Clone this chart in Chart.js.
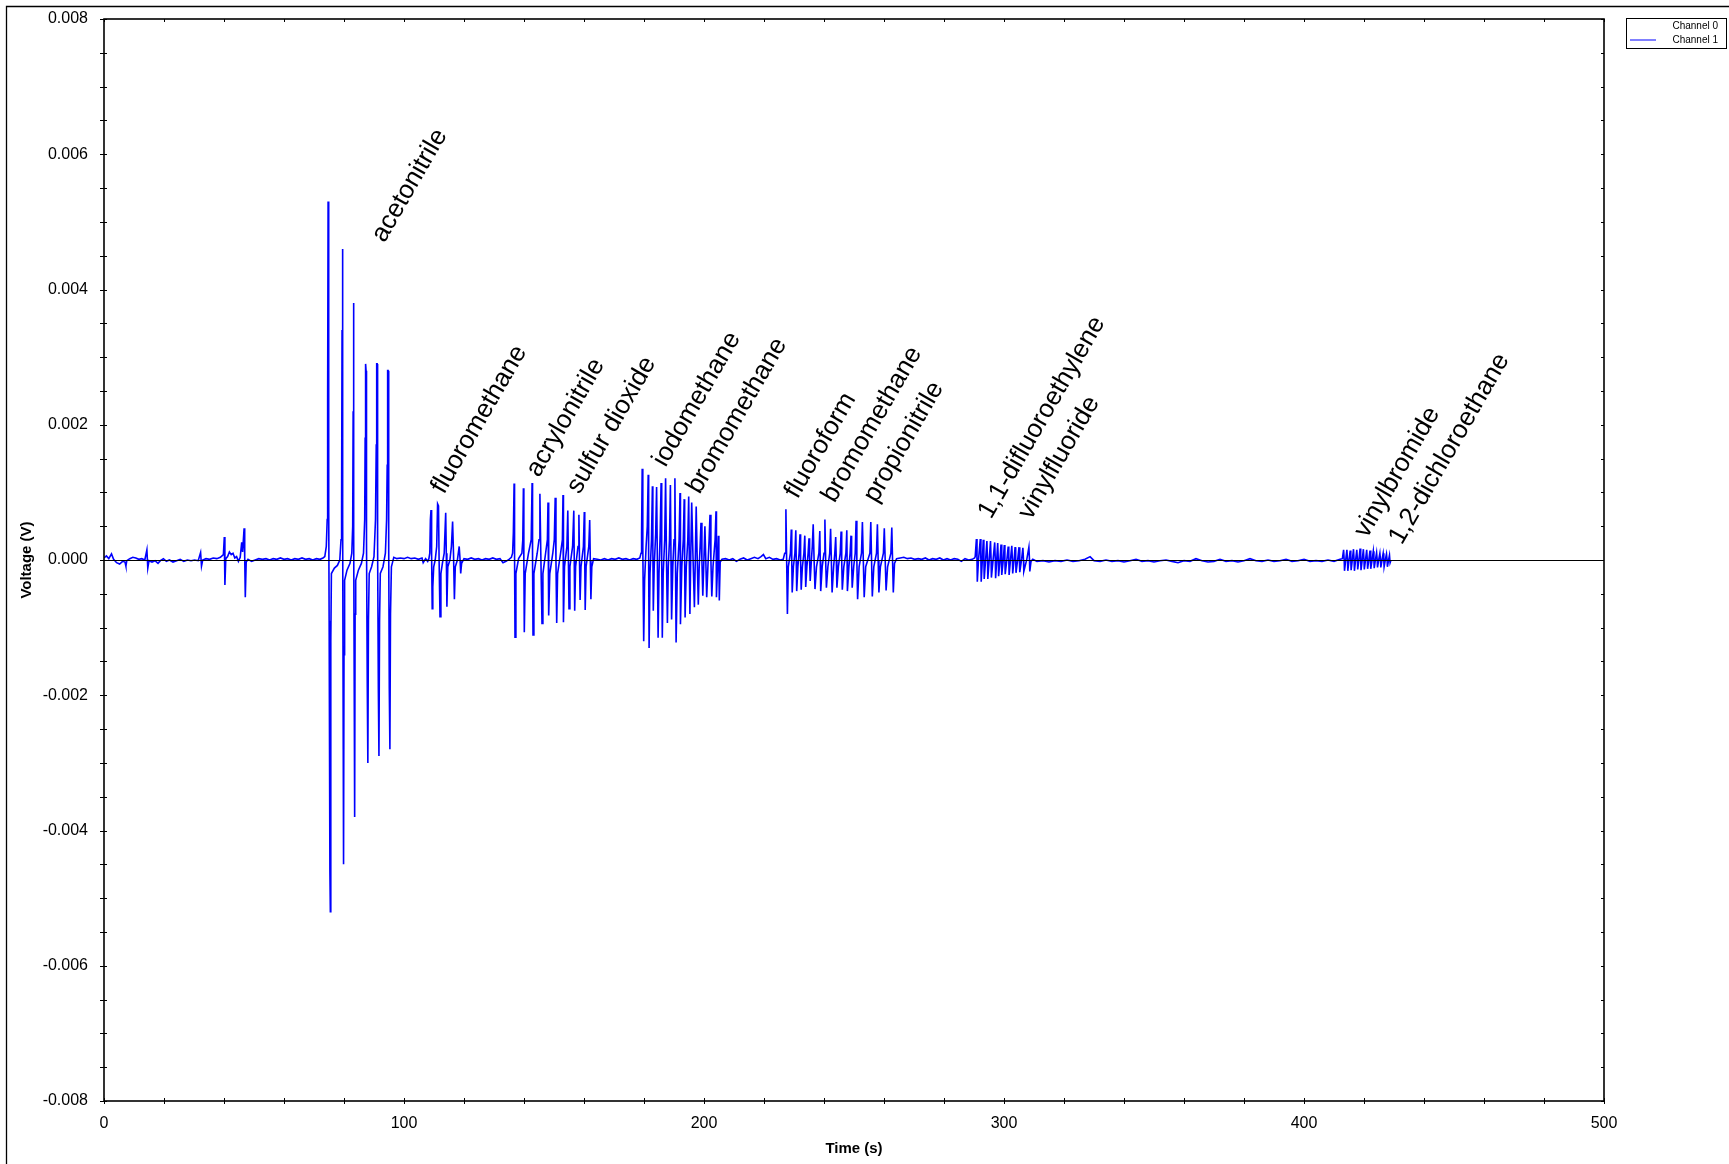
<!DOCTYPE html>
<html>
<head>
<meta charset="utf-8">
<title>Channel 1 voltage trace</title>
<script src="https://cdn.jsdelivr.net/npm/chart.js@4.4.1/dist/chart.umd.min.js"></script>
<style>
  html, body { margin: 0; padding: 0; background: #fff; }
  #wrap { width: 1729px; height: 1164px; }
</style>
</head>
<body>
<div id="wrap"><canvas id="trace" width="1729" height="1164"></canvas></div>
<script>
// ? Data (time in s, voltage in V)
// ? ==================================
const quietStart = [
  [0, 0.00003], [0.8, 0.00006], [1.6, 0.00002], [2.5, 0.00009], [3.2, 0.00001], [4.2, -0.00004],
  [5.2, -0.00006], [6.2, -0.00002], [7.0, -0.00003], [7.3, -0.00009], [7.6, -0.00001], [8.6, 0.00002],
  [9.6, 0.00004], [10.6, 0.00003], [11.6, 0.00001], [12.6, 0.00002], [13.6, 0.0], [14.3, 0.00015],
  [14.6, -0.00012], [15.0, -0.00001], [16.0, -0.00003], [17.0, -0.00001], [18.0, -0.00005], [18.8, -0.00001],
  [19.8, 0.00002], [20.8, -0.00002], [21.8, 0.0], [23.0, -0.00003], [24.2, -0.00001], [25.4, 0.00001],
  [26.6, -0.00002], [27.8, 0.0], [29.0, -0.00001], [30.2, 0.0], [31.4, -0.00001], [32.2, 0.00011],
  [32.5, -0.00009], [32.9, 0.0], [34.0, 0.00002], [35.2, 0.00001], [36.4, 0.00003], [37.6, 0.00002],
  [38.8, 0.00004], [39.8, 0.00008], [40.1, 0.00034], [40.3, -0.00037], [40.6, 0.00002], [41.2, 0.00005],
  [41.8, 0.00012], [42.4, 0.00008], [43.0, 0.0001], [43.6, 0.00003], [44.2, 0.00005], [44.8, -0.00002],
  [45.4, 0.00004], [45.9, 0.00026], [46.2, 0.00012], [46.7, 0.00047], [46.9, 0.00005], [47.1, -0.00055],
  [47.4, -0.00003], [48.0, 0.00001], [49.2, -0.00002], [50.4, 0.0], [51.6, 0.00002], [52.8, 0.00001],
  [54.0, 0.00002], [55.2, 0.0], [56.4, 0.00002], [57.6, 0.00001], [58.8, 0.00003], [60.0, 0.00001],
  [61.2, 0.00002], [62.4, 0.0], [63.6, 0.00002], [64.8, 0.00001], [66.0, 0.00003], [67.2, 0.00001],
  [68.4, 0.00002], [69.6, 0.0], [70.8, 0.00002], [72.0, 0.00001], [73.0, 0.00003]
];

const acetonitrilePeaks = [
  [73.6, 0.00005], [74.1, 0.0002], [74.4, 0.0006], [74.55, 0.0024], [74.7, 0.0053], [74.9, 0.0008],
  [75.05, -0.0009], [75.3, -0.0046], [75.45, -0.0052], [75.6, -0.0012], [75.8, -0.0002], [76.8, -0.00012],
  [77.8, -0.00008], [78.6, 0.0], [79.0, 0.0003], [79.2, 0.0008], [79.35, 0.0034], [79.5, 0.0046],
  [79.6, 0.0006], [79.75, -0.0028], [79.85, -0.0045], [80.0, -0.0014], [80.2, -0.0003], [81.0, -0.00015],
  [82.0, -0.00005], [82.6, 0.0001], [82.9, 0.0005], [83.05, 0.0022], [83.15, 0.0038], [83.3, 0.0004],
  [83.45, -0.0024], [83.55, -0.0038], [83.7, -0.0008], [83.9, -0.0003], [84.8, -0.00015], [85.8, -0.00005],
  [86.5, 0.0001], [86.9, 0.0006], [87.05, 0.0018], [87.2, 0.0029], [87.35, 0.0028], [87.5, 0.0003],
  [87.75, -0.0018], [87.95, -0.003], [88.15, -0.0009], [88.4, -0.0002], [89.2, -0.0001], [90.0, 0.00005],
  [90.5, 0.0006], [90.75, 0.0017], [90.9, 0.0029], [91.05, 0.0029], [91.2, 0.0002], [91.45, -0.0019],
  [91.65, -0.0029], [91.85, -0.0009], [92.1, -0.0002], [93.0, -0.0001], [93.8, 0.0001], [94.2, 0.0006],
  [94.4, 0.0014], [94.55, 0.0028], [94.7, 0.0028], [94.9, 0.0002], [95.1, -0.0019], [95.3, -0.0028],
  [95.5, -0.0008], [95.8, -0.0001], [96.6, 0.00004], [97.6, 0.00002]
];

const quietA = [
  [98.8, 0.00003], [100, 0.00002], [101.2, 0.00004], [102.4, 0.00002], [103.6, 0.00003], [104.8, 0.00001],
  [106, 0.00003], [106.4, -0.00004], [107.2, 0.00002], [107.9, -0.00002], [108.3, 0.00002]
];

const fluoromethanePeaks = [
  [108.6, 0.0001], [108.8, 0.0006], [109.0, 0.00074], [109.2, 0.0001], [109.4, -0.00072], [109.6, -0.0004],
  [109.9, -0.0001], [110.4, 0.0], [110.9, 0.0002], [111.2, 0.00083], [111.5, 0.0008], [111.7, 0.0],
  [112.0, -0.00084], [112.3, -0.0002], [112.8, -0.00005], [113.4, 0.0001], [113.9, 0.0007], [114.1, 0.0001],
  [114.3, -0.00069], [114.6, -0.0001], [115.3, 0.0], [115.8, 0.0002], [116.2, 0.00057], [116.5, 0.0001],
  [116.8, -0.00058], [117.1, -0.0001], [117.8, 0.0], [118.4, 0.0002], [118.7, 0.0], [118.9, -0.0002],
  [119.2, -0.00005], [120, 0.00002]
];

const quietB = [
  [121.2, 0.00001], [122.4, 0.00003], [123.6, 0.00001], [124.8, 0.00002], [126, 0.0], [127.2, 0.00002],
  [128.4, 0.00001], [129.6, 0.00003], [130.8, 0.00001], [132, 0.00002], [133, -0.00004], [134, -0.00002],
  [135, 0.00001], [135.8, 0.00004]
];

const acrylonitrilePeaks = [
  [136.2, 0.0001], [136.45, 0.0004], [136.7, 0.00113], [136.85, 0.0001], [137.0, -0.00114], [137.3, -0.0002],
  [138.2, 0.00002], [139.3, 0.0001], [139.6, 0.0003], [139.8, 0.00106], [139.95, 0.0], [140.1, -0.00107],
  [140.4, -0.0002], [141.5, 0.0001], [142.4, 0.0003], [142.7, 0.00114], [142.85, 0.0], [143.0, -0.00111],
  [143.3, -0.0002], [144.4, 0.0001], [145.0, 0.0003], [145.3, 0.00098], [145.6, 0.0001], [146.0, -0.00094],
  [146.3, -0.0002], [147.2, 0.0001], [147.8, 0.0003], [148.0, 0.00085], [148.15, 0.0], [148.3, -0.00082],
  [148.6, -0.0002], [149.6, 0.0001], [150.1, 0.0003], [150.4, 0.00092], [150.65, 0.0], [150.9, -0.00093],
  [151.2, -0.0002], [152.2, 0.0001], [152.8, 0.0003], [153.0, 0.00096], [153.1, 0.0], [153.2, -0.00092],
  [153.5, -0.0001], [154.3, 0.0002], [154.6, 0.00073], [154.8, 0.0], [155.0, -0.00072], [155.3, -0.0001],
  [156.2, 0.0002], [156.6, 0.00073], [156.75, 0.0], [156.9, -0.00075], [157.2, -0.0001], [158.0, 0.0002],
  [158.3, 0.00067], [158.5, 0.0], [158.7, -0.00059], [159.0, -0.0001], [159.8, 0.0002], [160.1, 0.00071],
  [160.25, 0.0], [160.4, -0.00074], [160.7, -0.0001], [161.6, 0.0002], [161.9, 0.00059], [162.1, 0.0],
  [162.3, -0.00058], [162.6, -0.0001], [163.2, 0.00002]
];

const quietC = [
  [164.4, 0.00001], [165.6, 0.0], [166.8, 0.00002], [168, 0.0], [169.2, 0.00002], [170.4, 0.00001],
  [171.6, 0.00003], [172.8, 0.00001], [174, 0.00002], [175.2, 0.0], [176.4, 0.00002], [177.6, 0.00001],
  [178.6, 0.00003]
];

const iodomethanePeaks = [
  [179.0, 0.0001], [179.2, 0.0004], [179.4, 0.00135], [179.6, 0.0002], [179.9, -0.0012], [180.2, -0.0003],
  [180.7, 0.0002], [181.1, 0.0005], [181.4, 0.00126], [181.55, 0.0], [181.7, -0.0013], [182.0, -0.0002],
  [182.5, 0.0003], [182.8, 0.00109], [182.95, 0.0002], [183.1, -0.00075], [183.4, -0.0001], [183.9, 0.0004],
  [184.2, 0.00108], [184.45, 0.0], [184.7, -0.00115], [185.0, -0.0002], [185.4, 0.0004], [185.7, 0.00114],
  [185.9, 0.0], [186.1, -0.00115], [186.4, -0.0002], [186.9, 0.0003], [187.2, 0.00121], [187.5, 0.0],
  [187.8, -0.00093], [188.1, -0.0001], [188.5, 0.0003], [188.8, 0.00111], [189.0, 0.0], [189.2, -0.00088],
  [189.6, -0.0001], [190.0, 0.0003], [190.3, 0.00121], [190.5, 0.0], [190.7, -0.00122], [191.1, -0.0002],
  [191.7, 0.0003], [192.0, 0.00099], [192.1, 0.0], [192.2, -0.00095], [192.6, -0.0001], [193.1, 0.0003],
  [193.4, 0.0009], [193.55, 0.0], [193.7, -0.00085], [194.1, -0.0001], [194.6, 0.0003], [194.9, 0.00094],
  [195.1, 0.0], [195.3, -0.0008], [195.6, 0.0001], [195.9, 0.00085], [196.3, 0.0001], [196.8, -0.0007],
  [197.1, 0.0], [197.4, 0.00079], [197.7, 0.0001], [198.1, -0.00066], [198.4, -0.0001], [198.7, 0.0002],
  [199.0, 0.00055], [199.3, 0.0], [199.6, -0.00053], [199.9, -0.0001], [200.3, 0.0005], [200.6, 0.0],
  [200.9, -0.00055], [201.3, -0.0001], [201.7, 0.0003], [202.0, 0.00067], [202.3, 0.0], [202.6, -0.00054],
  [203.0, -0.0001], [203.7, 0.0003], [204.0, 0.00072], [204.1, 0.0], [204.2, -0.00055], [204.5, -0.0001],
  [204.8, 0.00036], [204.95, 0.0], [205.1, -0.0006], [205.4, -0.00003], [206.0, 0.00001]
];

const quietD = [
  [207.2, 0.00002], [208.4, 0.0], [209.6, 0.00002], [210.8, -0.00002], [212, 0.00001], [213.2, 0.00003],
  [214.4, 0.0], [215.6, 0.00002], [216.8, 0.00004], [218, 0.00002], [219, 0.00005], [219.8, 0.00008],
  [220.6, 0.00002], [221.8, 0.00004], [223, 0.00001], [224.2, 0.00002], [225.4, 0.0], [226.4, 0.00001],
  [226.9, 0.0001]
];

const fluoroformPeaks = [
  [227.0, 0.0001], [227.3, 0.00075], [227.55, 0.0], [227.8, -0.0008], [228.1, -0.0001], [228.8, 0.0001],
  [229.1, 0.00045], [229.25, 0.0], [229.4, -0.00048], [229.8, -0.0001], [230.3, 0.0001], [230.6, 0.00044],
  [230.75, 0.0], [230.9, -0.00046], [231.3, -0.0001], [231.7, 0.0001], [232.0, 0.00038], [232.2, 0.0],
  [232.4, -0.00044], [232.8, -0.0001], [233.3, 0.0001], [233.6, 0.00036], [233.75, 0.0], [233.9, -0.0004],
  [234.3, -0.0001], [234.7, 0.0001], [235.0, 0.00032], [235.2, 0.0], [235.4, -0.00031], [235.8, 0.0],
  [236.1, 0.0002], [236.4, 0.00053], [236.7, 0.0], [237.0, -0.00043], [237.5, -0.0001], [238.3, 0.0001],
  [238.6, 0.00043], [238.75, 0.0], [238.9, -0.00046], [239.4, -0.0001], [240.0, 0.0001], [240.3, 0.0006],
  [240.55, 0.0], [240.8, -0.00041], [241.3, -0.0001], [241.9, 0.0001], [242.2, 0.00046], [242.45, 0.0],
  [242.7, -0.00048], [243.2, -0.0001], [243.6, 0.0001], [243.9, 0.00034], [244.1, 0.0], [244.3, -0.00041],
  [244.8, -0.0001], [245.4, 0.0001], [245.7, 0.00042], [245.9, 0.0], [246.1, -0.00044], [246.6, -0.0001],
  [247.3, 0.0001], [247.6, 0.00044], [247.7, 0.0], [247.8, -0.00046], [248.3, -0.0001], [248.7, 0.0001],
  [249.0, 0.00036], [249.2, 0.0], [249.4, -0.00041], [249.9, -0.0001], [250.4, 0.0001], [250.7, 0.00058],
  [250.95, 0.0], [251.2, -0.00058], [251.7, -0.0001], [252.5, 0.0001], [252.8, 0.00056], [253.1, 0.0],
  [253.4, -0.00055], [253.9, -0.0001], [255.3, 0.0001], [255.6, 0.00056], [255.85, 0.0], [256.1, -0.00054],
  [256.6, -0.0001], [257.5, 0.0001], [257.8, 0.00053], [258.05, 0.0], [258.3, -0.00048], [258.8, -0.0001],
  [259.8, 0.0001], [260.1, 0.00047], [260.4, 0.0], [260.7, -0.00045], [261.2, -0.0001], [262.3, 0.0001],
  [262.6, 0.00048], [262.85, 0.0], [263.1, -0.00048], [263.5, -0.00005], [264.2, 0.00002]
];

const quietE = [
  [265.4, 0.00003], [266.6, 0.00004], [267.8, 0.00002], [269, 0.00003], [270.2, 0.00001], [271.4, 0.00002],
  [272.6, 0.00001], [273.8, 0.00003], [275, 0.0], [276.2, 0.00002], [277.4, 0.00001], [278.6, 0.00003],
  [279.8, 0.0], [281, 0.00002], [282.2, 0.0], [283.4, 0.00002], [284.6, 0.00001], [285.8, -0.00002],
  [287, 0.00002], [288.2, 0.0], [289.4, 0.00001], [290.2, 0.00003]
];

const difluoroethylenePeaks = [
  [290.4, 0.00005], [290.8, 0.00031], [291.0, 0.0], [291.1, -0.00032], [291.5, 0.0], [292.1, 0.00031],
  [292.3, 0.0], [292.4, -0.00032], [292.8, 0.00002], [293.1, 0.0003], [293.3, 0.0], [293.4, -0.00028],
  [293.9, 0.00002], [294.3, 0.00028], [294.5, 0.0], [294.6, -0.00028], [295.1, 0.00002], [295.5, 0.00028],
  [295.7, 0.0], [295.8, -0.00026], [296.4, 0.00002], [296.9, 0.00026], [297.1, 0.0], [297.2, -0.00027],
  [297.6, 0.00002], [297.9, 0.00025], [298.1, 0.0], [298.2, -0.00024], [298.7, 0.00002], [299.0, 0.00023],
  [299.2, 0.0], [299.3, -0.00022], [299.8, 0.00002], [300.1, 0.00022], [300.3, 0.0], [300.4, -0.00021],
  [301.0, 0.00002], [301.4, 0.0002], [301.6, 0.0], [301.7, -0.00022], [302.2, 0.00002], [302.6, 0.00021],
  [302.8, 0.0], [302.9, -0.0002], [303.4, 0.00002], [303.7, 0.00019], [303.9, 0.0], [304.0, -0.00019],
  [304.6, 0.00002], [305.0, 0.00019], [305.2, 0.0], [305.3, -0.00018], [305.9, 0.00002], [306.3, 0.00018],
  [306.5, 0.0], [306.6, -0.00017], [307.6, 0.00001], [308.3, 0.00019], [308.5, 0.0], [308.6, -0.00017],
  [309.0, -0.00002], [309.6, 0.00001]
];

const quietF = [
  [311, -0.00002], [313, -0.00001], [315, -0.00003], [317, -0.00001], [319, -0.00002], [321, 0.0],
  [323, -0.00002], [325, -0.00001], [327, 0.00001], [328.7, 0.00005], [330, -0.00001], [332, -0.00002],
  [334, 0.0], [336, -0.00002], [338, -0.00001], [340, -0.00003], [342, -0.00001], [344, 0.00001],
  [346, -0.00002], [348, -0.00001], [350, -0.00003], [352, -0.00001], [354, 0.0], [356, -0.00002],
  [358, -0.00004], [360, -0.00001], [362, -0.00002], [364, 0.00002], [366, -0.00001], [368, -0.00003],
  [370, -0.00002], [372, 0.00001], [374, -0.00002], [376, -0.00001], [378, -0.00003], [380, -0.00001],
  [382, 0.00002], [384, -0.00001], [386, -0.00002], [388, 0.0], [390, -0.00002], [392, -0.00001],
  [394, 0.00001], [396, -0.00002], [398, -0.00001], [400, 0.00001], [402, -0.00002], [404, -0.00001],
  [406, -0.00002], [408, 0.0], [410, -0.00002], [412, 0.00001]
];

const vinylbromidePeaks = [
  [412.8, 0.00002], [413.2, 0.00015], [413.4, 0.0], [413.5, -0.00016], [413.9, 0.0], [414.3, 0.00015],
  [414.5, 0.0], [414.6, -0.00016], [415.0, 0.0], [415.4, 0.00014], [415.6, 0.0], [415.7, -0.00015],
  [416.1, 0.0], [416.5, 0.00016], [416.7, 0.0], [416.8, -0.00016], [417.2, 0.0], [417.6, 0.00015],
  [417.8, 0.0], [417.9, -0.00014], [418.3, 0.0], [418.7, 0.00017], [418.9, 0.0], [419.0, -0.00015],
  [419.4, 0.0], [419.8, 0.00016], [420.0, 0.0], [420.1, -0.00014], [420.5, 0.0], [420.9, 0.00015],
  [421.1, 0.0], [421.2, -0.00013], [421.6, 0.0], [422.0, 0.00014], [422.2, 0.0], [422.3, -0.00013],
  [422.7, 0.0], [423.1, 0.00013], [423.3, 0.0], [423.4, -0.00012], [423.8, 0.0], [424.2, 0.00011],
  [424.4, 0.0], [424.5, -0.00011], [424.9, 0.0], [425.3, 0.0001], [425.5, 0.0], [425.6, -0.00011],
  [426.0, 0.0], [426.4, 0.0001], [426.6, 0.0], [426.7, -0.0001], [427.1, 0.0], [427.5, 0.00009],
  [427.7, 0.0], [427.8, -0.0001], [428.2, 0.0], [428.5, 0.00007], [428.7, -0.00004], [429.0, 0.0]
];

// compound names, placed at (time, voltage) where each label starts
const compoundNames = [
  "acetonitrile", "fluoromethane", "acrylonitrile", "sulfur dioxide", "iodomethane", "bromomethane",
  "fluoroform", "bromomethane", "propionitrile", "1,1-difluoroethylene", "vinylfluoride",
  "vinylbromide", "1,2-dichloroethane"
];
const compoundTimes = [93.5, 113.3, 145.0, 158.5, 187.2, 198.5, 231.2, 243.5, 257.5, 295.7, 309.0, 421.0, 432.6];
const compoundVolts = [0.00468, 0.00096, 0.00121, 0.00096, 0.00136, 0.00096, 0.00089, 0.00083, 0.00083,
  0.00059, 0.00058, 0.00031, 0.00021];

const xTicks = [0, 100, 200, 300, 400, 500];
const yTicks = [-0.008, -0.006, -0.004, -0.002, 0, 0.002, 0.004, 0.006, 0.008];
// ? ==================================

const FONT = "'Liberation Sans', Arial, Helvetica, sans-serif";

const channel1 = []
  .concat(quietStart, acetonitrilePeaks, quietA, fluoromethanePeaks, quietB, acrylonitrilePeaks,
    quietC, iodomethanePeaks, quietD, fluoroformPeaks, quietE, difluoroethylenePeaks, quietF, vinylbromidePeaks)
  .map((p) => ({ x: p[0], y: p[1] }));

// & Frame, ticks, zero line, labels and legend
// & ============================
const decorations = {
  id: "decorations",
  afterDatasetsDraw(chart) {
    const ctx = chart.ctx;
    const area = chart.chartArea;
    const xs = chart.scales.x;
    const ys = chart.scales.y;
    ctx.save();
    ctx.strokeStyle = "#000";

    // zero line
    ctx.lineWidth = 1;
    const y0 = Math.round(ys.getPixelForValue(0)) + 0.5;
    ctx.beginPath();
    ctx.moveTo(area.left, y0);
    ctx.lineTo(area.right, y0);
    ctx.stroke();

    // plot box
    ctx.lineWidth = 1.6;
    ctx.strokeRect(area.left, area.top, area.right - area.left, area.bottom - area.top);

    // outer frame (only top & left are on the page)
    ctx.lineWidth = 1.3;
    ctx.beginPath();
    ctx.moveTo(6.5, chart.height + 2);
    ctx.lineTo(6.5, 6.5);
    ctx.lineTo(chart.width + 2, 6.5);
    ctx.stroke();

    // minor ticks
    ctx.lineWidth = 1;
    ctx.beginPath();
    for (let i = 0; i <= 25; i++) {
      const px = Math.round(xs.getPixelForValue(i * 20)) + 0.5;
      ctx.moveTo(px, area.bottom - 3);
      ctx.lineTo(px, area.bottom + 3);
      ctx.moveTo(px, area.top);
      ctx.lineTo(px, area.top + 3);
    }
    for (let i = 0; i <= 32; i++) {
      const py = Math.round(ys.getPixelForValue(-0.008 + i * 0.0005)) + 0.5;
      ctx.moveTo(area.left - 4, py);
      ctx.lineTo(area.left + 3, py);
      ctx.moveTo(area.right - 3, py);
      ctx.lineTo(area.right, py);
    }
    ctx.stroke();

    // compound labels
    ctx.fillStyle = "#000";
    ctx.font = "26px " + FONT;
    ctx.textAlign = "left";
    ctx.textBaseline = "alphabetic";
    compoundNames.forEach((name, i) => {
      ctx.save();
      ctx.translate(xs.getPixelForValue(compoundTimes[i]), ys.getPixelForValue(compoundVolts[i]));
      ctx.rotate(-60 * Math.PI / 180);
      ctx.fillText(name, 0, 0);
      ctx.restore();
    });

    // legend box
    ctx.lineWidth = 1;
    ctx.strokeRect(1626.5, 18.5, 100, 30);
    ctx.font = "10px " + FONT;
    ctx.textAlign = "right";
    ctx.textBaseline = "middle";
    chart.data.datasets.forEach((ds, i) => {
      const ly = 26 + i * 14;
      ctx.strokeStyle = ds.borderColor;
      ctx.lineWidth = 1;
      ctx.beginPath();
      ctx.moveTo(1630, ly);
      ctx.lineTo(1656, ly);
      ctx.stroke();
      ctx.fillText(ds.label, 1718, ly);
    });
    ctx.restore();
  },
};
// & ============================

new Chart(document.getElementById("trace"), {
  type: "scatter",
  data: {
    datasets: [
      { label: "Channel 0", data: [], borderColor: "#ffffff", showLine: true, pointRadius: 0 },
      {
        label: "Channel 1",
        data: channel1,
        borderColor: "#0000ff",
        borderWidth: 1.6,
        showLine: true,
        pointRadius: 0,
        tension: 0,
      },
    ],
  },
  options: {
    responsive: false,
    devicePixelRatio: 1,
    animation: false,
    layout: { padding: { top: 19, right: 125, left: 0, bottom: 0 } },
    plugins: { legend: { display: false }, tooltip: { enabled: false } },
    scales: {
      x: {
        type: "linear",
        min: 0,
        max: 500,
        grid: { display: false, drawTicks: false },
        border: { display: false },
        afterBuildTicks: (axis) => { axis.ticks = xTicks.map((v) => ({ value: v })); },
        ticks: { color: "#000", font: { family: FONT, size: 16 }, padding: 13, maxRotation: 0 },
        title: {
          display: true,
          text: "Time (s)",
          color: "#000",
          font: { family: FONT, size: 15, weight: "bold" },
          padding: { top: 0, bottom: 6 },
        },
        afterFit: (axis) => {
          axis.height = 63;
          axis.paddingLeft = 0;
          axis.paddingRight = 0;
        },
      },
      y: {
        min: -0.008,
        max: 0.008,
        grid: { display: false, drawTicks: false },
        border: { display: false },
        afterBuildTicks: (axis) => { axis.ticks = yTicks.map((v) => ({ value: v })); },
        ticks: {
          color: "#000",
          font: { family: FONT, size: 16 },
          padding: 16,
          callback: (v) => Number(v).toFixed(3),
        },
        title: {
          display: true,
          text: "Voltage (V)",
          color: "#000",
          font: { family: FONT, size: 15, weight: "bold" },
          padding: { top: 18, bottom: 0 },
        },
        afterFit: (axis) => {
          axis.width = 104;
          axis.paddingTop = 0;
          axis.paddingBottom = 0;
        },
      },
    },
  },
  plugins: [decorations],
});
</script>
</body>
</html>
